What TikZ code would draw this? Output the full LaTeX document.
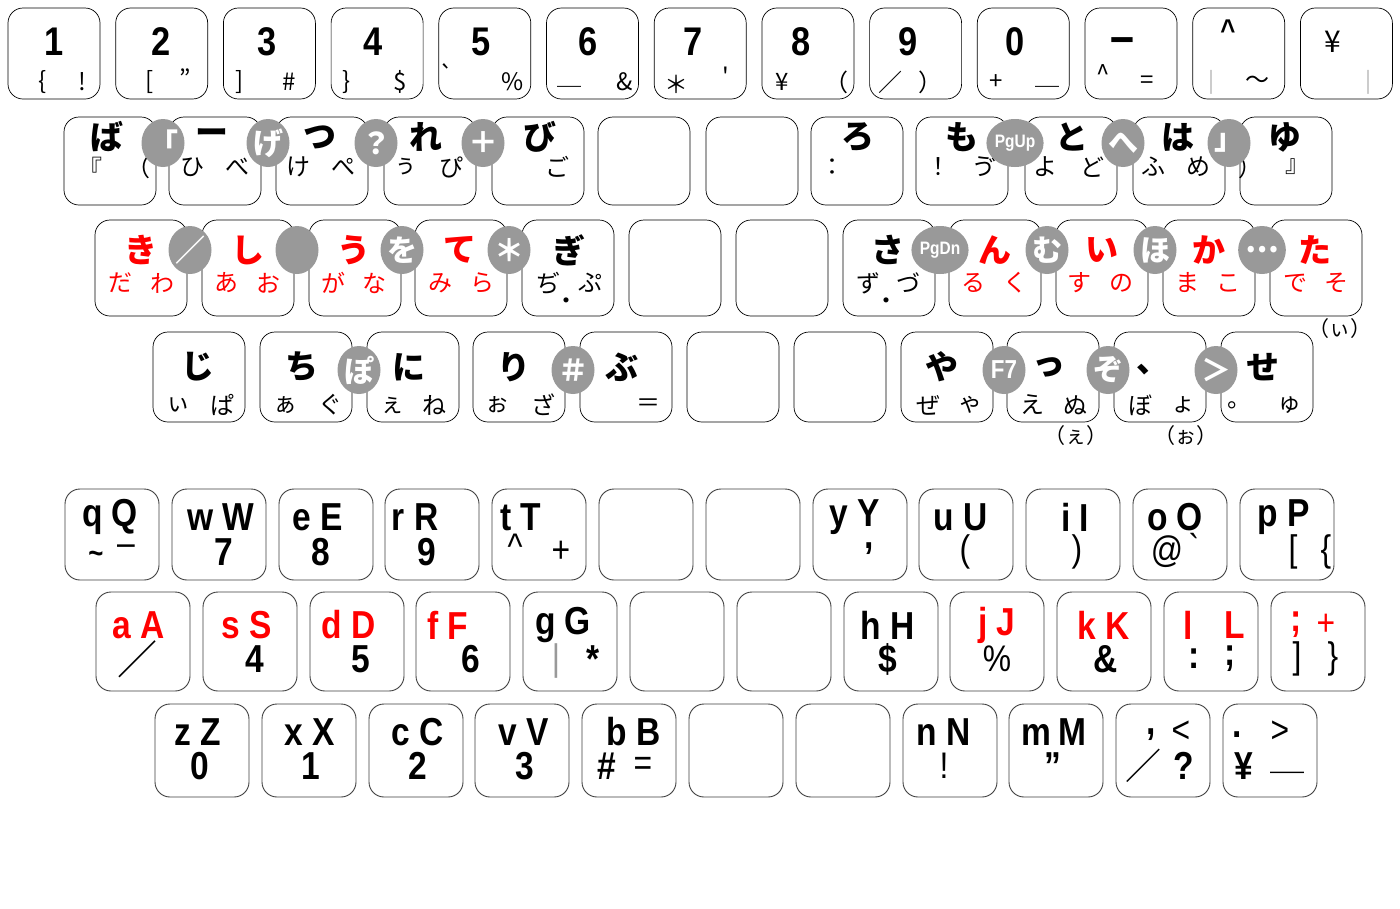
\documentclass[tikz,border=0pt]{standalone}
\usepackage{fontspec}
\usetikzlibrary{shapes.geometric}
\newfontfamily\jp{Noto Sans CJK JP}
\newfontfamily\nar[FakeStretch=0.86]{Liberation Sans}
\definecolor{cg}{HTML}{999999}
\definecolor{kred}{HTML}{FF0000}
\newcount\tcnt
\newcommand\T[4][]{\global\advance\tcnt by 1 \node[#1] (t\the\tcnt) at (#2,#3) {#4};}
\begin{document}
\begin{tikzpicture}[x=1pt,y=-1pt,
 key/.style={draw=black, line width=0.7pt, rounded corners=15pt},
 lkey/.style={draw=black!75, line width=0.9pt, rounded corners=15pt},
 big/.style={inner sep=0, font=\jp\bfseries\fontsize{33}{33}\selectfont},
 sm/.style={inner sep=0, font=\jp\fontsize{24}{24}\selectfont},
 dig/.style={inner sep=0, font=\nar\bfseries\fontsize{40}{40}\selectfont},
 sym/.style={inner sep=0, font=\jp\fontsize{24}{24}\selectfont},
 bub/.style={ellipse, fill=cg, minimum width=43, minimum height=48, inner sep=0, text=white, font=\jp\bfseries\fontsize{30}{30}\selectfont},
 bubs/.style={bub, font=\nar\bfseries\fontsize{18}{18}\selectfont},
 lat/.style={inner sep=0, font=\nar\bfseries\fontsize{39}{39}\selectfont},
 lsym/.style={inner sep=0, font=\nar\fontsize{37}{37}\selectfont},
 rd/.style={text=kred},
]
\useasboundingbox (0,0) rectangle (1400,908);
\fill[white] (0,0) rectangle (1400,908);
% ---------- number row
\foreach \i in {0,...,12} \draw[key] ({8+107.7*\i},8) rectangle ++(92,91);
\T[dig]{54}{42}{1}\T[dig]{161}{42}{2}\T[dig]{267}{42}{3}\T[dig]{373}{42}{4}
\T[dig]{481}{42}{5}\T[dig]{588}{42}{6}\T[dig]{693}{42}{7}\T[dig]{801}{42}{8}
\T[dig]{908}{42}{9}\T[dig]{1015}{42}{0}
\T[dig,font=\nar\bfseries\fontsize{50}{50}\selectfont]{1122}{46}{–}
\T[dig,font=\nar\bfseries\fontsize{30}{30}\selectfont]{1228}{30}{\^{}}
\T[sym,font=\jp\fontsize{30}{30}\selectfont]{1333}{42}{¥}
\T[sym]{43}{82}{\{}\T[sym]{82}{82}{!}
\T[sym]{150}{82}{[}\T[sym]{185}{78}{”}
\T[sym]{240}{82}{]}\T[sym]{289}{82}{\#}
\T[sym]{347}{82}{\}}\T[sym]{400}{82}{\$}
\T[sym]{447}{74}{`}\T[sym]{513}{82}{\%}
\T[sym]{569}{86}{＿}\T[sym]{625}{82}{\&}
\T[sym]{676}{84}{＊}\T[sym]{726}{76}{'}
\T[sym]{782}{82}{¥}\T[sym]{836}{82}{（}
\T[sym]{890}{82}{／}\T[sym]{930}{82}{）}
\T[sym]{996}{82}{+}\T[sym]{1047}{86}{＿}
\T[sym]{1103}{74}{\^{}}\T[sym]{1147}{82}{=}
\T[sym,text=cg]{1211}{82}{｜}\T[sym]{1257}{82}{～}
\T[sym,text=cg]{1368}{82}{｜}
% ---------- kana row 1
\foreach \x in {64,169,276,384,492,598,706,811,916,1025,1133,1240} \draw[key] (\x,117) rectangle ++(92,88);
\T[big]{107}{137}{ば}\T[big]{212}{137}{ー}\T[big]{320}{137}{つ}\T[big]{426}{137}{れ}
\T[big]{540}{137}{び}\T[big]{858}{137}{ろ}\T[big]{962}{137}{も}\T[big]{1072}{137}{と}
\T[big]{1178}{137}{は}\T[big]{1285}{137}{ゆ}
\T[sm]{90}{167}{『}\T[sm]{138}{167}{（}\T[sm]{192}{167}{ひ}\T[sm]{237}{167}{べ}
\T[sm]{298}{167}{け}\T[sm]{343}{167}{ぺ}\T[sm]{405}{167}{ぅ}\T[sm]{451}{167}{ぴ}
\T[sm]{557}{167}{ご}\T[sm]{832}{167}{：}\T[sm]{938}{167}{！}\T[sm]{984}{167}{ゔ}
\T[sm]{1045}{167}{よ}\T[sm]{1092}{167}{ど}\T[sm]{1153}{167}{ふ}\T[sm]{1198}{167}{め}
\T[sm]{1250}{167}{）}\T[sm]{1297}{167}{』}
\T[bub]{163}{143}{「}\T[bub]{268}{143}{げ}\T[bub]{376}{143}{？}\T[bub]{483}{143}{＋}
\T[bubs]{1015}{143}{PgUp}\T[bub]{1123}{143}{へ}\T[bub]{1229}{143}{」}
% ---------- kana row 2
\foreach \x in {95,202,309,415,522,629,736,843,949,1056,1163,1270} \draw[key] (\x,220) rectangle ++(92,96);
\T[big,rd]{141}{250}{き}\T[big,rd]{248}{250}{し}\T[big,rd]{354}{250}{う}\T[big,rd]{460}{250}{て}
\T[big]{569}{250}{ぎ}\T[big]{888}{250}{さ}\T[big,rd]{995}{250}{ん}\T[big,rd]{1102}{250}{い}
\T[big,rd]{1209}{250}{か}\T[big,rd]{1315}{250}{た}
\T[sm,rd]{120}{283}{だ}\T[sm,rd]{162}{283}{わ}\T[sm,rd]{226}{283}{あ}\T[sm,rd]{268}{283}{お}
\T[sm,rd]{333}{283}{が}\T[sm,rd]{374}{283}{な}\T[sm,rd]{440}{283}{み}\T[sm,rd]{482}{283}{ら}
\T[sm]{548}{283}{ぢ}\T[sm]{590}{283}{ぷ}\T[sm]{566}{304}{・}
\T[sm]{868}{283}{ず}\T[sm]{908}{283}{づ}\T[sm]{886}{304}{・}
\T[sm,rd]{973}{283}{る}\T[sm,rd]{1015}{283}{く}\T[sm,rd]{1079}{283}{す}\T[sm,rd]{1121}{283}{の}
\T[sm,rd]{1187}{283}{ま}\T[sm,rd]{1228}{283}{こ}\T[sm,rd]{1295}{283}{で}\T[sm,rd]{1336}{283}{そ}
\T[sm,font=\jp\fontsize{21}{21}\selectfont]{1340}{329}{（ぃ）}
\T[bub]{190}{250}{／}\T[bub]{297}{250}{}\T[bub]{402}{250}{を}\T[bub]{509}{250}{＊}
\T[bubs]{940}{250}{PgDn}\T[bub]{1047}{250}{む}\T[bub]{1155}{250}{ほ}\T[bub]{1262}{250}{…}
% ---------- kana row 3
\foreach \x in {153,260,367,473,580,687,794,901,1007,1114,1221} \draw[key] (\x,332) rectangle ++(92,90);
\T[big]{198}{367}{じ}\T[big]{302}{367}{ち}\T[big]{409}{367}{に}\T[big]{514}{367}{り}
\T[big]{622}{367}{ぶ}\T[big]{942}{367}{や}\T[big]{1049}{367}{っ}\T[big]{1153}{370}{、}
\T[big]{1263}{367}{せ}
\T[sm]{178}{405}{ぃ}\T[sm]{222}{405}{ぱ}\T[sm]{285}{405}{ぁ}\T[sm]{330}{405}{ぐ}
\T[sm]{392}{405}{ぇ}\T[sm]{434}{405}{ね}\T[sm]{497}{405}{ぉ}\T[sm]{543}{405}{ざ}
\T[sm]{648}{405}{＝}\T[sm]{928}{405}{ぜ}\T[sm]{970}{405}{ゃ}\T[sm]{1032}{405}{え}
\T[sm]{1075}{405}{ぬ}\T[sm]{1140}{405}{ぼ}\T[sm]{1183}{405}{ょ}\T[sm]{1239}{405}{。}
\T[sm]{1289}{405}{ゅ}
\T[sm,font=\jp\fontsize{21}{21}\selectfont]{1076}{436}{（ぇ）}
\T[sm,font=\jp\fontsize{21}{21}\selectfont]{1186}{436}{（ぉ）}
\T[bub]{359}{370}{ぽ}\T[bub]{573}{370}{＃}\T[bubs,font=\nar\bfseries\fontsize{26}{26}\selectfont]{1004}{370}{F7}
\T[bub]{1108}{370}{ぞ}\T[bub]{1216}{370}{＞}
% ---------- latin row A
\foreach \x in {65,172,279,385,492,599,706,813,919,1026,1133,1240} \draw[lkey] (\x,489) rectangle ++(94,91);
\T[lat]{110}{517}{q Q}\T[lat]{221}{517}{w W}\T[lat]{318}{517}{e E}\T[lat]{415}{517}{r R}
\T[lat]{521}{517}{t T}\T[lat]{855}{517}{y Y}\T[lat]{961}{517}{u U}\T[lat]{1075}{517}{i I}
\T[lat]{1175}{517}{o O}\T[lat]{1284}{517}{p P}
\T[lsym,font=\nar\bfseries\fontsize{30}{30}\selectfont]{96}{557}{\textasciitilde}\T[lsym]{126}{550}{–}
\T[lat]{224}{552}{7}\T[lat]{321}{552}{8}\T[lat]{427}{552}{9}
\T[lsym]{515}{547}{\^{}}\T[lsym]{561}{552}{+}
\T[lat]{869}{549}{,}\T[lsym]{965}{552}{(}\T[lsym]{1077}{552}{)}
\T[lsym]{1167}{552}{@}\T[lsym]{1194}{547}{`}\T[lsym]{1293}{552}{[}\T[lsym]{1326}{552}{\{}
% ---------- latin row B
\foreach \x in {96,203,310,416,523,630,737,844,950,1057,1164,1271} \draw[lkey] (\x,592) rectangle ++(94,99);
\T[lat,rd]{139}{625}{a A}\T[lat,rd]{247}{625}{s S}\T[lat,rd]{349}{625}{d D}\T[lat,rd]{448}{625}{f F}
\T[lat]{563}{625}{g G}\T[lat]{888}{625}{h H}\T[lat,rd]{997}{625}{j J}\T[lat,rd]{1104}{625}{k K}
\T[lat,rd]{1188}{625}{l}\T[lat,rd]{1235}{625}{L}\T[lat,rd]{1296}{625}{;}\T[lsym,rd]{1326}{625}{+}
\T[lsym,font=\jp\fontsize{40}{40}\selectfont]{137}{659}{／}
\T[lat]{255}{659}{4}\T[lat]{361}{659}{5}\T[lat]{471}{659}{6}
\T[lsym,text=cg]{556}{661}{|}\T[lat]{593}{659}{*}\T[lat]{888}{659}{\$}\T[lsym]{997}{659}{\%}
\T[lat]{1106}{659}{\&}\T[lat]{1194}{659}{:}\T[lat]{1230}{659}{;}
\T[lsym]{1297}{659}{]}\T[lsym]{1333}{659}{\}}
% ---------- latin row C
\foreach \x in {155,262,369,475,582,689,796,903,1009,1116,1223} \draw[lkey] (\x,704) rectangle ++(94,93);
\T[lat]{198}{732}{z Z}\T[lat]{310}{732}{x X}\T[lat]{418}{732}{c C}\T[lat]{524}{732}{v V}
\T[lat]{634}{732}{b B}\T[lat]{944}{732}{n N}\T[lat]{1054}{732}{m\,M}
\T[lat]{1151}{735}{,}\T[lsym]{1181}{732}{<}\T[lat]{1237}{735}{.}\T[lsym]{1280}{732}{>}
\T[lat]{200}{766}{0}\T[lat]{311}{766}{1}\T[lat]{418}{766}{2}\T[lat]{525}{766}{3}
\T[lat]{607}{766}{\#}\T[lsym]{643}{766}{=}\T[lsym]{944}{766}{!}\T[lat]{1053}{766}{”}
\T[lsym,font=\jp\fontsize{36}{36}\selectfont]{1143}{766}{／}\T[lat]{1184}{766}{?}
\T[lat]{1244}{766}{¥}\T[sym,font=\jp\fontsize{34}{34}\selectfont]{1287}{772}{＿}
\end{tikzpicture}
\end{document}
